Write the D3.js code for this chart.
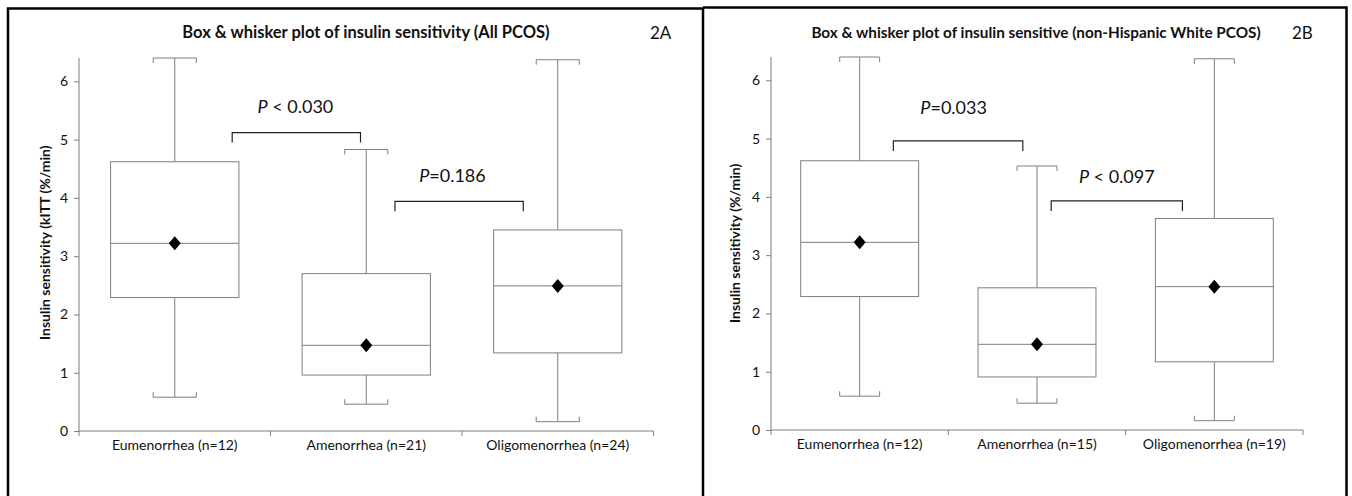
<!DOCTYPE html>
<html>

<head>
    <meta charset="UTF-8">
    <style>
        body {
            margin: 0;
            background: white;
        }

        svg text {
            font-family: Lato, "Open Sans", sans-serif;
            fill: #111;
        }
    </style>
</head>

<body>
    <svg></svg>

    <script src="https://d3js.org/d3.v7.min.js"></script>

    <script>
        let width = 1352, height = 496;

        // panel 2A : all PCOS
        let categoriesA = ["Eumenorrhea (n=12)", "Amenorrhea (n=21)", "Oligomenorrhea (n=24)"];
        let minA = [0.58, 0.46, 0.16];
        let q1A = [2.29, 0.96, 1.34];
        let medianA = [3.22, 1.47, 2.49];
        let q3A = [4.62, 2.70, 3.45];
        let maxA = [6.40, 4.83, 6.37];
        let meanA = [3.22, 1.47, 2.49];
        let pLabelsA = [" < 0.030", "=0.186"];
        let bracketFromA = [0.30, 1.15];
        let bracketToA = [0.97, 1.82];
        let bracketValueA = [5.12, 3.94];
        let pTextPosA = [0.63, 1.45];
        let pTextValueA = [5.45, 4.28];

        // panel 2B : non-Hispanic White PCOS
        let categoriesB = ["Eumenorrhea (n=12)", "Amenorrhea (n=15)", "Oligomenorrhea (n=19)"];
        let minB = [0.58, 0.46, 0.16];
        let q1B = [2.29, 0.91, 1.17];
        let medianB = [3.22, 1.47, 2.46];
        let q3B = [4.62, 2.44, 3.63];
        let maxB = [6.40, 4.53, 6.37];
        let meanB = [3.22, 1.47, 2.46];
        let pLabelsB = ["=0.033", " < 0.097"];
        let bracketFromB = [0.19, 1.08];
        let bracketToB = [0.92, 1.82];
        let bracketValueB = [4.96, 3.93];
        let pTextPosB = [0.53, 1.45];
        let pTextValueB = [5.42, 4.24];

        let yTicks = [0, 1, 2, 3, 4, 5, 6];
        let yMax = 6.4;

        let svg = d3.select("svg")
            .attr("width", width)
            .attr("height", height);

        svg.append("rect").attr("width", width).attr("height", height).attr("fill", "white");

        let gray = "#7f7f7f";

        function drawPanel(p) {
            let g = svg.append("g");

            let x = d3.scaleBand()
                .domain(p.categories)
                .range([p.left, p.right]);

            let y = d3.scaleLinear()
                .domain([0, yMax])
                .range([p.bottom, p.top]);

            let bw = x.bandwidth();
            // position in category units (0 = centre of first category)
            let xc = i => x(p.categories[0]) + bw / 2 + i * bw;

            let rows = p.categories.map((c, i) => ({
                cat: c, min: p.min[i], q1: p.q1[i], med: p.median[i],
                q3: p.q3[i], max: p.max[i], mean: p.mean[i]
            }));

            // y axis
            let yAxis = g.append("g")
                .attr("transform", "translate(" + p.left + ",0)")
                .call(d3.axisLeft(y).tickValues(yTicks).tickFormat(d3.format("d")).tickSize(5).tickPadding(6));
            yAxis.select(".domain").attr("stroke", gray).attr("d", "M0," + y(0) + "V" + y(yMax));
            yAxis.selectAll(".tick line").attr("stroke", gray);
            yAxis.selectAll(".tick text").style("font-size", "14px").attr("fill", "#111");

            // x axis
            let xAxis = g.append("g")
                .attr("transform", "translate(0," + p.bottom + ")")
                .call(d3.axisBottom(x).tickSize(0).tickPadding(9));
            xAxis.select(".domain").attr("stroke", gray).attr("d", "M" + p.left + ",0H" + p.right);
            xAxis.selectAll(".tick text").style("font-size", "14px").attr("fill", "#111");
            xAxis.selectAll(".sep")
                .data(d3.range(p.categories.length + 1))
                .enter()
                .append("line")
                .attr("x1", i => p.left + i * bw)
                .attr("x2", i => p.left + i * bw)
                .attr("y1", 0)
                .attr("y2", 5)
                .attr("stroke", gray);

            let boxW = bw * p.boxFrac;
            let capW = bw * p.capFrac;

            let box = g.append("g").selectAll("g")
                .data(rows)
                .enter()
                .append("g")
                .attr("transform", d => "translate(" + (x(d.cat) + bw / 2) + ",0)");

            // whiskers
            box.append("line")
                .attr("x1", 0).attr("x2", 0)
                .attr("y1", d => y(d.max)).attr("y2", d => y(d.min))
                .attr("stroke", gray);

            box.append("path")
                .attr("fill", "none")
                .attr("stroke", gray)
                .attr("d", d => "M" + (-capW / 2) + "," + (y(d.max) + 5) + "V" + y(d.max) + "H" + (capW / 2) + "V" + (y(d.max) + 5));

            box.append("path")
                .attr("fill", "none")
                .attr("stroke", gray)
                .attr("d", d => "M" + (-capW / 2) + "," + (y(d.min) - 5) + "V" + y(d.min) + "H" + (capW / 2) + "V" + (y(d.min) - 5));

            // boxes
            box.append("rect")
                .attr("x", -boxW / 2)
                .attr("width", boxW)
                .attr("y", d => y(d.q3))
                .attr("height", d => y(d.q1) - y(d.q3))
                .attr("fill", "white")
                .attr("stroke", gray);

            box.append("line")
                .attr("x1", -boxW / 2).attr("x2", boxW / 2)
                .attr("y1", d => y(d.med)).attr("y2", d => y(d.med))
                .attr("stroke", gray);

            // mean diamond
            box.append("path")
                .attr("transform", d => "translate(0," + y(d.mean) + ")")
                .attr("d", "M0,-7L6,0L0,7L-6,0Z")
                .attr("fill", "black");

            // significance brackets
            g.append("g").selectAll("path")
                .data(p.bracketFrom)
                .enter()
                .append("path")
                .attr("fill", "none")
                .attr("stroke", "#222")
                .attr("stroke-width", 1.2)
                .attr("d", (d, i) => {
                    let yy = y(p.bracketValue[i]);
                    return "M" + xc(d) + "," + (yy + 10) + "V" + yy + "H" + xc(p.bracketTo[i]) + "V" + (yy + 10);
                });

            let pt = g.append("g").selectAll("text")
                .data(p.pLabels)
                .enter()
                .append("text")
                .attr("x", (d, i) => xc(p.pTextPos[i]))
                .attr("y", (d, i) => y(p.pTextValue[i]))
                .attr("text-anchor", "middle")
                .style("font-size", "18px");
            pt.append("tspan").style("font-style", "italic").text("P");
            pt.append("tspan").attr("xml:space", "preserve").style("white-space", "pre").text(d => d);

            // title and panel tag
            g.append("text")
                .attr("x", p.titleX)
                .attr("y", 38)
                .attr("text-anchor", "middle")
                .style("font-size", p.titleSize)
                .style("font-weight", "bold")
                .text(p.title);

            g.append("text")
                .attr("x", p.tagX)
                .attr("y", 39)
                .style("font-size", "17px")
                .text(p.tag);

            g.append("text")
                .attr("transform", "translate(" + p.labelX + "," + p.labelBottom + ") rotate(-90)")
                .attr("text-anchor", "start")
                .style("font-size", "14px")
                .style("font-weight", "bold")
                .text(p.yLabel);
        }

        drawPanel({
            categories: categoriesA, min: minA, q1: q1A, median: medianA, q3: q3A, max: maxA, mean: meanA,
            pLabels: pLabelsA, bracketFrom: bracketFromA, bracketTo: bracketToA, bracketValue: bracketValueA,
            pTextPos: pTextPosA, pTextValue: pTextValueA,
            left: 79, right: 653.5, top: 58, bottom: 431,
            boxFrac: 0.67, capFrac: 0.225,
            title: "Box & whisker plot of insulin sensitivity (All PCOS)", titleX: 366, titleSize: "16.5px",
            tag: "2A", tagX: 650,
            yLabel: "Insulin sensitivity (kITT (%/min)", labelX: 50, labelBottom: 340
        });

        drawPanel({
            categories: categoriesB, min: minB, q1: q1B, median: medianB, q3: q3B, max: maxB, mean: meanB,
            pLabels: pLabelsB, bracketFrom: bracketFromB, bracketTo: bracketToB, bracketValue: bracketValueB,
            pTextPos: pTextPosB, pTextValue: pTextValueB,
            left: 771, right: 1303, top: 57, bottom: 430,
            boxFrac: 0.665, capFrac: 0.225,
            title: "Box & whisker plot of insulin sensitive (non-Hispanic White PCOS)", titleX: 1036, titleSize: "15.3px",
            tag: "2B", tagX: 1292,
            yLabel: "Insulin sensitivity (%/min)", labelX: 740, labelBottom: 323
        });

        // panel frames
        svg.append("path")
            .attr("fill", "none")
            .attr("stroke", "black")
            .attr("stroke-width", 2.5)
            .attr("d", "M8," + height + "V8.5H703V" + height);

        svg.append("path")
            .attr("fill", "none")
            .attr("stroke", "black")
            .attr("stroke-width", 2.5)
            .attr("d", "M703,7.5H1346.5V" + height);
    </script>

</body>

</html>
